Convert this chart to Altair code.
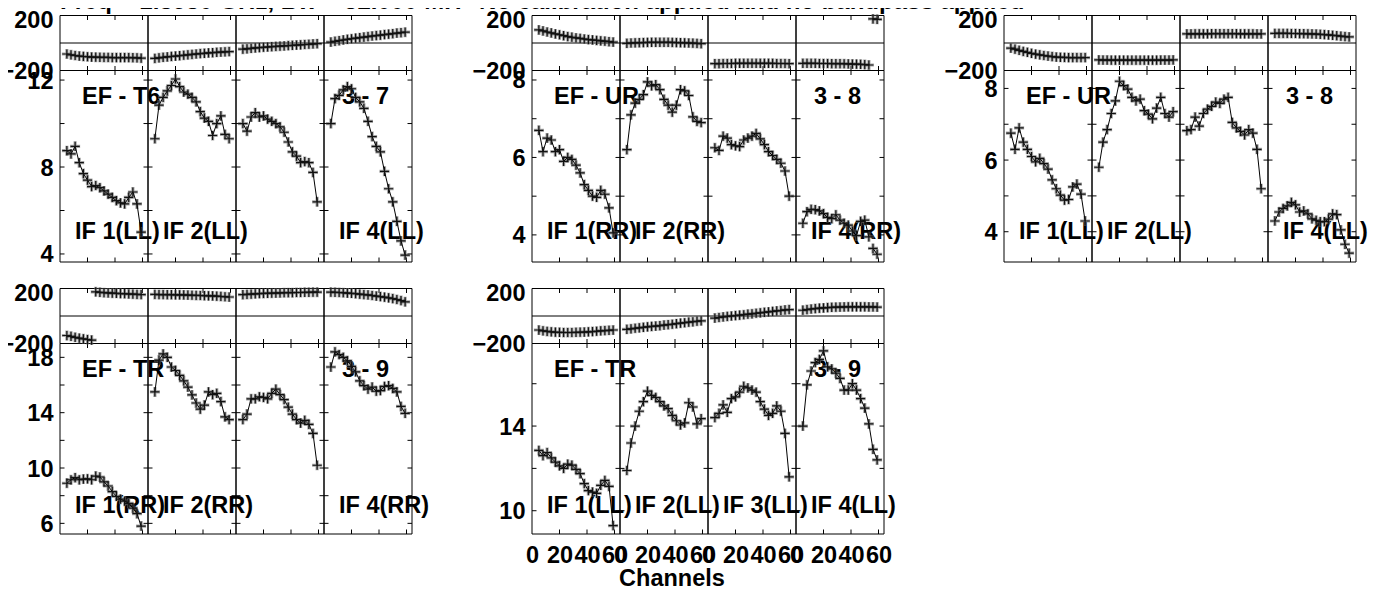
import altair as alt
import pandas as pd

# ---------------- data ----------------
CHANNELS = [5, 8, 11, 14, 17, 20, 23, 26, 29, 32, 35, 38, 41, 44, 47, 50, 53, 56, 59]
CHANNEL_TICKS = [0, 20, 40, 60]

TITLE_LEFT = "Freq = 1.5950 GHz, Bw = 32.000 MH"
TITLE_RIGHT = "No calibration applied and no bandpass applied"

BASELINES = ["EF - T6", "EF - UR", "EF - UR", "EF - TR", "EF - TR"]
ANTENNAS = ["3 - 7", "3 - 8", "3 - 8", "3 - 9", "3 - 9"]
POLS = ["LL", "RR", "LL", "RR", "LL"]
SHOWN_IFS = [[1, 2, 4], [1, 2, 4], [1, 2, 4], [1, 2, 4], [1, 2, 3, 4]]

AMP_RANGES = [[3.63, 12.44], [3.30, 8.245], [3.155, 8.50], [5.23, 19.0], [8.9, 17.9]]
AMP_LABELS = [[4, 8, 12], [4, 6, 8], [4, 6, 8], [6, 10, 14, 18], [10, 14]]
AMP_TICKS = [[4, 6, 8, 10, 12], [4, 5, 6, 7, 8], [4, 5, 6, 7, 8],
             [6, 8, 10, 12, 14, 16, 18], [10, 12, 14, 16]]
PHASE_RANGE = [-200, 200]

AMP_EF_T6 = [
    [8.75, 8.6, 8.95, 8.2, 7.7, 7.4, 7.1, 7.15, 7.05, 6.9, 6.75, 6.6, 6.45, 6.35, 6.3, 6.6, 6.85, 6.3, 5.0],
    [9.3, 10.85, 11.2, 11.5, 11.75, 12.05, 11.7, 11.45, 11.35, 11.2, 11.0, 10.55, 10.25, 10.1, 9.45, 10.0, 10.35, 9.5, 9.3],
    [10.0, 9.65, 10.3, 10.5, 10.3, 10.35, 10.2, 10.1, 10.0, 9.85, 9.6, 9.15, 8.7, 8.5, 8.2, 8.25, 8.2, 7.75, 6.4],
    [10.0, 11.15, 11.3, 11.55, 11.7, 11.6, 11.2, 11.0, 10.7, 10.1, 9.4, 8.95, 8.7, 7.8, 7.0, 6.4, 5.5, 4.6, 3.95],
]
PHASE_EF_T6 = [
    [-80, -86, -91, -95, -98, -100, -102, -103, -104, -105, -105, -106, -106, -106, -106, -106, -107, -108, -110],
    [-112, -108, -104, -101, -98, -95, -92, -89, -86, -83, -80, -77, -75, -72, -70, -68, -66, -64, -62],
    [-45, -42, -39, -36, -33, -31, -29, -27, -25, -23, -21, -19, -17, -15, -13, -11, -9, -7, -5],
    [7, 12, 17, 22, 27, 31, 35, 39, 43, 47, 51, 54, 57, 61, 64, 68, 72, 75, 79],
]
AMP_EF_UR_RR = [
    [6.7, 6.15, 6.5, 6.45, 6.15, 6.2, 5.9, 6.0, 5.95, 5.8, 5.6, 5.3, 5.15, 5.0, 4.97, 5.15, 5.05, 4.7, 4.05],
    [6.2, 7.1, 7.4, 7.5, 7.62, 7.95, 7.85, 7.88, 7.75, 7.5, 7.35, 7.17, 7.35, 7.75, 7.72, 7.6, 7.05, 6.93, 6.9],
    [6.25, 6.18, 6.55, 6.5, 6.33, 6.3, 6.28, 6.45, 6.5, 6.55, 6.62, 6.48, 6.33, 6.15, 6.05, 5.95, 5.85, 5.65, 5.0],
    [4.3, 4.6, 4.66, 4.65, 4.62, 4.55, 4.45, 4.42, 4.52, 4.38, 4.3, 4.25, 4.1, 3.98, 4.35, 4.38, 3.95, 3.65, 3.5],
]
PHASE_EF_UR_RR = [
    [95, 88, 80, 73, 66, 60, 53, 47, 42, 37, 33, 29, 25, 22, 19, 16, 13, 10, 7],
    [-2, 0, 1, 2, 3, 4, 5, 5, 5, 5, 5, 4, 3, 2, 1, 0, -1, -3, -5],
    [-150, -150, -149, -149, -149, -148, -148, -148, -148, -148, -148, -148, -148, -148, -148, -149, -149, -149, -150],
    [-148, -148, -148, -148, -149, -149, -149, -150, -150, -150, -151, -152, -153, -154, -155, -157, -160, 175, 172],
]
AMP_EF_UR_LL = [
    [6.75, 6.3, 6.9, 6.5, 6.3, 6.1, 5.95, 6.05, 5.9, 5.75, 5.45, 5.2, 5.02, 4.88, 4.9, 5.25, 5.33, 5.05, 4.3],
    [5.8, 6.5, 6.85, 7.3, 7.65, 8.2, 8.08, 7.98, 7.75, 7.65, 7.7, 7.38, 7.28, 7.15, 7.45, 7.75, 7.3, 7.2, 7.35],
    [6.82, 6.85, 7.2, 6.95, 7.3, 7.42, 7.5, 7.62, 7.58, 7.7, 7.75, 7.05, 6.9, 6.8, 6.7, 6.85, 6.75, 6.3, 5.2],
    [4.3, 4.55, 4.65, 4.72, 4.82, 4.75, 4.55, 4.58, 4.5, 4.36, 4.32, 4.28, 4.28, 4.35, 4.5, 4.48, 4.05, 3.65, 3.4],
]
PHASE_EF_UR_LL = [
    [-37, -45, -53, -61, -68, -75, -81, -86, -91, -95, -99, -102, -104, -105, -106, -106, -106, -106, -106],
    [-123, -124, -124, -125, -125, -125, -125, -125, -125, -125, -125, -125, -125, -125, -125, -124, -124, -124, -123],
    [66, 66, 67, 67, 67, 67, 68, 68, 68, 68, 68, 68, 68, 67, 67, 67, 67, 66, 66],
    [70, 70, 70, 70, 69, 69, 68, 68, 67, 66, 65, 63, 61, 59, 56, 53, 50, 47, 44],
]
AMP_EF_TR_RR = [
    [8.9, 9.15, 9.3, 9.15, 9.2, 9.22, 9.15, 9.42, 9.35, 9.0, 8.7, 8.3, 7.95, 7.75, 7.6, 7.45, 7.1, 6.7, 5.8],
    [15.5, 17.8, 18.25, 18.0, 17.3, 17.05, 16.7, 16.3, 15.85, 15.28, 14.7, 14.25, 14.55, 15.5, 15.3, 15.4, 14.8, 13.7, 13.5],
    [13.5, 13.9, 15.0, 15.0, 15.15, 15.1, 15.0, 15.4, 15.7, 15.3, 14.95, 14.4, 13.9, 13.5, 13.25, 13.45, 13.15, 12.5, 10.2],
    [17.3, 18.4, 18.2, 18.0, 17.75, 17.35, 16.95, 16.3, 15.95, 15.7, 15.85, 15.55, 15.6, 15.9, 15.95, 15.75, 15.5, 14.45, 13.95],
]
PHASE_EF_TR_RR = [
    [-142, -148, -155, -161, -166, -171, -175, 176, 172, 170, 168, 166, 165, 163, 162, 160, 159, 157, 156],
    [157, 156, 156, 155, 155, 154, 154, 153, 152, 151, 150, 149, 148, 147, 146, 144, 142, 140, 138],
    [155, 157, 159, 161, 163, 164, 165, 166, 167, 168, 169, 170, 170, 171, 171, 172, 172, 173, 173],
    [173, 172, 171, 169, 167, 165, 162, 159, 156, 153, 149, 145, 141, 137, 132, 127, 120, 112, 103],
]
AMP_EF_TR_LL = [
    [12.85, 12.6, 12.75, 12.5, 12.3, 12.12, 12.0, 12.2, 12.15, 11.95, 11.75, 11.28, 10.95, 10.88, 10.82, 11.2, 11.43, 11.15, 9.3],
    [11.9, 13.2, 14.0, 14.7, 15.15, 15.65, 15.45, 15.35, 15.15, 14.95, 14.82, 14.5, 14.25, 14.05, 14.15, 15.1, 14.9, 14.1, 14.35],
    [14.4, 14.6, 15.0, 14.65, 15.3, 15.38, 15.6, 15.88, 15.8, 15.7, 15.6, 15.15, 14.8, 14.5, 14.6, 14.95, 14.7, 13.65, 11.6],
    [14.0, 15.95, 16.6, 17.0, 17.15, 17.55, 16.8, 16.7, 16.5, 16.25, 15.7, 15.7, 16.0, 15.7, 15.3, 14.85, 14.1, 12.9, 12.4],
]
PHASE_EF_TR_LL = [
    [-102, -108, -112, -115, -118, -119, -120, -120, -120, -119, -118, -117, -115, -113, -111, -108, -106, -104, -102],
    [-97, -93, -89, -86, -82, -79, -76, -73, -70, -66, -63, -60, -56, -52, -49, -45, -42, -38, -35],
    [-15, -11, -7, -3, 0, 3, 6, 9, 13, 16, 20, 23, 27, 30, 33, 37, 40, 44, 47],
    [42, 47, 51, 54, 57, 59, 61, 63, 64, 65, 66, 67, 67, 67, 67, 67, 66, 66, 65],
]

AMPS = [AMP_EF_T6, AMP_EF_UR_RR, AMP_EF_UR_LL, AMP_EF_TR_RR, AMP_EF_TR_LL]
PHASES = [PHASE_EF_T6, PHASE_EF_UR_RR, PHASE_EF_UR_LL, PHASE_EF_TR_RR, PHASE_EF_TR_LL]

# ---------------- layout (pixels inside the single view) ----------------
W_VIEW, H_VIEW = 1370, 582
SPAN = 64
FRAME_X = [(52, 404), (524, 876), (996, 1348), (52, 404), (524, 876)]
ROW_Y = [(7.5, 62.5, 254), (280.5, 335.5, 526)]  # phase top, phase/amp boundary, amp bottom
PANEL_ROW = [0, 0, 0, 1, 1]
IF_LABEL_RISE = [23, 21]
FONT = "Liberation Sans"
FS = 23.5
PLUS = "M-1,0L1,0M0,-1L0,1"


def y_axis(x0, values, label_offset):
    return alt.Axis(orient="left", offset=-x0, values=values, ticks=False, tickSize=0,
                    domain=False, grid=False, labelPadding=7, labelFont=FONT,
                    labelFontSize=FS, labelFontWeight="bold", labelColor="black",
                    labelOverlap=False, labelOffset=label_offset, title=None)


def build_panel(i):
    x0, x1 = FRAME_X[i]
    row = PANEL_ROW[i]
    pt, pm, ab = ROW_Y[row]
    lo, hi = AMP_RANGES[i]
    xs = alt.Scale(domain=[0, 4 * SPAN], range=[x0, x1], zero=False, nice=False)
    ps = alt.Scale(domain=PHASE_RANGE, range=[pm, pt], zero=False, nice=False)
    ams = alt.Scale(domain=[lo, hi], range=[ab, pm], zero=False, nice=False)

    rows = []
    for k in range(4):
        amps, phs = AMPS[i][k], PHASES[i][k]
        seg = 0
        for j, ch in enumerate(CHANNELS):
            if j > 0 and abs(phs[j] - phs[j - 1]) > 180:
                seg += 1
            rows.append(dict(x=k * SPAN + ch, amp=amps[j], phase=phs[j], grp=f"{k}-{seg}"))
    df = pd.DataFrame(rows)

    frames = pd.DataFrame({"a": [k * SPAN for k in range(4)],
                           "b": [(k + 1) * SPAN for k in range(4)],
                           "plo": PHASE_RANGE[0], "phi": PHASE_RANGE[1],
                           "alo": lo, "ahi": hi})
    zero = pd.DataFrame({"a": [0], "b": [4 * SPAN], "z": [0]})
    xt = pd.DataFrame({"t": [k * SPAN + c for k in range(4) for c in CHANNEL_TICKS if c > 0],
                       "top": PHASE_RANGE[1], "mid": PHASE_RANGE[0], "bot": lo})
    yt_in = pd.DataFrame([(k * SPAN, v) for k in (1, 2, 3) for v in AMP_TICKS[i]], columns=["d", "v"])
    yt_l = pd.DataFrame({"d": 0, "v": AMP_TICKS[i]})
    yt_r = pd.DataFrame({"d": 4 * SPAN, "v": AMP_TICKS[i]})

    X = lambda f: alt.X(f, scale=xs, axis=None)
    rect_style = dict(fill="white", fillOpacity=0, stroke="black", strokeWidth=1)
    tick_style = dict(color="black", thickness=1, opacity=1)
    txt_style = dict(font=FONT, fontSize=FS, fontWeight="bold", color="black",
                     baseline="alphabetic", align="left")
    halo = dict(shape=PLUS, size=100, filled=False, color="#6f6f6f", strokeWidth=3.2, opacity=0.6)
    plus = dict(shape=PLUS, size=85, filled=False, color="#111", strokeWidth=1.2, opacity=1)

    L = []
    # frames / dividers
    L.append(alt.Chart(frames).mark_rect(**rect_style).encode(
        x=X("a:Q"), x2="b:Q", y=alt.Y("plo:Q", scale=ps, axis=None), y2="phi:Q"))
    L.append(alt.Chart(frames).mark_rect(**rect_style).encode(
        x=X("a:Q"), x2="b:Q", y=alt.Y("alo:Q", scale=ams, axis=None), y2="ahi:Q"))
    L.append(alt.Chart(zero).mark_rule(color="black", strokeWidth=1).encode(
        x=X("a:Q"), x2="b:Q", y=alt.Y("z:Q", scale=ps, axis=None)))
    # channel ticks
    L.append(alt.Chart(xt).mark_tick(orient="vertical", size=4.5, yOffset=2.25, **tick_style).encode(
        x=X("t:Q"), y=alt.Y("top:Q", scale=ps, axis=None)))
    L.append(alt.Chart(xt).mark_tick(orient="vertical", size=9, **tick_style).encode(
        x=X("t:Q"), y=alt.Y("mid:Q", scale=ps, axis=None)))
    L.append(alt.Chart(xt).mark_tick(orient="vertical", size=4.5, yOffset=-2.25, **tick_style).encode(
        x=X("t:Q"), y=alt.Y("bot:Q", scale=ams, axis=None)))
    # amplitude ticks
    L.append(alt.Chart(yt_in).mark_tick(orient="horizontal", size=9, **tick_style).encode(
        x=X("d:Q"), y=alt.Y("v:Q", scale=ams, axis=None)))
    L.append(alt.Chart(yt_l).mark_tick(orient="horizontal", size=4.5, xOffset=2.25, **tick_style).encode(
        x=X("d:Q"), y=alt.Y("v:Q", scale=ams, axis=None)))
    L.append(alt.Chart(yt_r).mark_tick(orient="horizontal", size=4.5, xOffset=-2.25, **tick_style).encode(
        x=X("d:Q"), y=alt.Y("v:Q", scale=ams, axis=None)))
    # text labels
    L.append(alt.Chart(pd.DataFrame({"p": [0], "s": [BASELINES[i]]})).mark_text(dx=22, **txt_style).encode(
        x=X("p:Q"), y=alt.value(pm + 33), text="s:N"))
    L.append(alt.Chart(pd.DataFrame({"p": [3 * SPAN], "s": [ANTENNAS[i]]})).mark_text(dx=18, **txt_style).encode(
        x=X("p:Q"), y=alt.value(pm + 33), text="s:N"))
    iflab = pd.DataFrame({"p": [(k - 1) * SPAN for k in SHOWN_IFS[i]],
                          "s": [f"IF {k}({POLS[i]})" for k in SHOWN_IFS[i]]})
    L.append(alt.Chart(iflab).mark_text(dx=15, **txt_style).encode(
        x=X("p:Q"), y=alt.value(ab - IF_LABEL_RISE[row]), text="s:N"))

    # data: phase
    L.append(alt.Chart(df).mark_point(**halo).encode(
        x=X("x:Q"), y=alt.Y("phase:Q", scale=ps, axis=None)))
    L.append(alt.Chart(df).mark_line(color="black", strokeWidth=1).encode(
        x=X("x:Q"), y=alt.Y("phase:Q", scale=ps, axis=y_axis(x0, [PHASE_RANGE[0]], 1)), detail="grp:N"))
    L.append(alt.Chart(df).mark_point(**plus).encode(
        x=X("x:Q"), y=alt.Y("phase:Q", scale=ps, axis=y_axis(x0, [PHASE_RANGE[1]], 5))))
    # data: amplitude
    L.append(alt.Chart(df).mark_point(**halo).encode(
        x=X("x:Q"), y=alt.Y("amp:Q", scale=ams, axis=None)))
    L.append(alt.Chart(df).mark_line(color="black", strokeWidth=1).encode(
        x=X("x:Q"), y=alt.Y("amp:Q", scale=ams, axis=None), detail="grp:N"))
    if i == 4:
        xaxis = alt.Axis(orient="bottom", offset=ab - H_VIEW,
                         values=[k * SPAN + c for k in range(4) for c in CHANNEL_TICKS],
                         labelExpr="format(datum.value % 64, 'd')", ticks=False, tickSize=0,
                         domain=False, grid=False, labelPadding=9.5, labelFont=FONT,
                         labelFontSize=FS, labelFontWeight="bold", labelColor="black",
                         labelOverlap=False, labelFlush=False, labelBound=False,
                         title="Channels", titleX=663.5, titleY=32.5, titleBaseline="top",
                         titleAlign="center", titleFont=FONT, titleFontSize=FS,
                         titleFontWeight="bold", titleColor="black")
        xenc = alt.X("x:Q", scale=xs, axis=xaxis)
    else:
        xenc = X("x:Q")
    L.append(alt.Chart(df).mark_point(**plus).encode(
        x=xenc, y=alt.Y("amp:Q", scale=ams, axis=y_axis(x0, AMP_LABELS[i], 1))))
    return L


layers = []
for i in range(5):
    layers.extend(build_panel(i))

titles = pd.DataFrame({"s": [TITLE_LEFT, TITLE_RIGHT], "px": [52, 471]})
layers.append(alt.Chart(titles).mark_text(font=FONT, fontSize=24, fontWeight="bold", color="black",
                                          align="left", baseline="alphabetic").encode(
    x=alt.X("px:Q", scale=None), y=alt.value(0.5), text="s:N"))

chart = alt.layer(*layers).properties(
    width=W_VIEW, height=H_VIEW, padding=0,
    autosize=alt.AutoSizeParams(type="none"),
).resolve_scale(x="independent", y="independent").configure_view(strokeWidth=0)

chart.save("out.html", embed_options={"renderer": "svg", "actions": False})
